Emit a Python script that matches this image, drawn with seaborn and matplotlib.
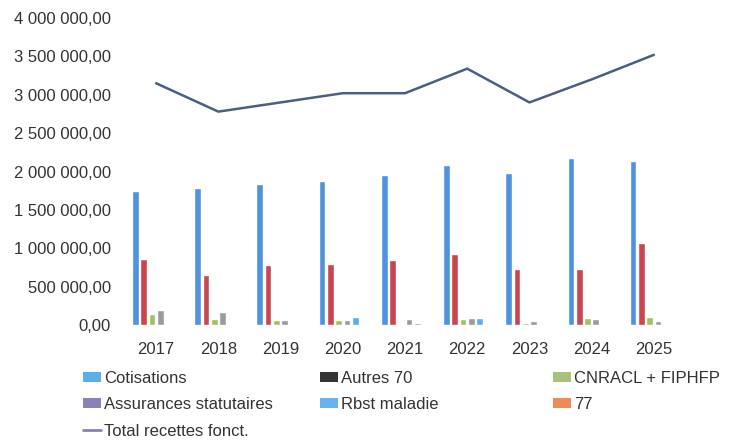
import numpy as np
import pandas as pd
import matplotlib
matplotlib.use('Agg')
import matplotlib.pyplot as plt
from matplotlib.patches import Patch
from matplotlib.lines import Line2D
from matplotlib.ticker import FuncFormatter
import seaborn as sns

# Données
annees = ['2017', '2018', '2019', '2020', '2021', '2022', '2023', '2024', '2025']
cotisations = [1750000, 1790000, 1840000, 1870000, 1960000, 2090000, 1980000, 2170000, 2140000]
autres_70 = [860000, 650000, 780000, 800000, 850000, 920000, 730000, 730000, 1065000]
cnracl_fiphfp = [140000, 80000, 70000, 65000, 0, 75000, 20000, 90000, 100000]
assurances = [190000, 170000, 70000, 65000, 75000, 85000, 50000, 80000, 50000]
rbst_maladie = [15000, 0, 15000, 100000, 30000, 85000, 10000, 10000, 0]
c77 = [0, 0, 0, 0, 0, 0, 0, 0, 0]
total_recettes = [3150000, 2780000, 2900000, 3020000, 3020000, 3340000, 2900000, 3200000, 3520000]

series = ['Cotisations', 'Autres 70', 'CNRACL + FIPHFP',
          'Assurances statutaires', 'Rbst maladie', '77']

df = pd.DataFrame({
    'annee': annees,
    'Cotisations': cotisations,
    'Autres 70': autres_70,
    'CNRACL + FIPHFP': cnracl_fiphfp,
    'Assurances statutaires': assurances,
    'Rbst maladie': rbst_maladie,
    '77': c77,
})
df_long = df.melt(id_vars='annee', var_name='poste', value_name='montant')

# couleurs des barres (telles qu'elles apparaissent)
couleurs_barres = {
    'Cotisations': '#4f93de',
    'Autres 70': '#c8464f',
    'CNRACL + FIPHFP': '#9cc45c',
    'Assurances statutaires': '#9a9b9e',
    'Rbst maladie': '#58aef0',
    '77': '#ee8a56',
}
# couleurs de la légende
couleurs_legende = {
    'Cotisations': '#5caee8',
    'Autres 70': '#343434',
    'CNRACL + FIPHFP': '#a9c27a',
    'Assurances statutaires': '#8c80b8',
    'Rbst maladie': '#6ab2ec',
    '77': '#ec8a5a',
}
couleur_ligne = '#4b5f80'

sns.set_theme(style='white')
plt.rcParams['font.family'] = ['Liberation Sans', 'DejaVu Sans']
plt.rcParams['text.color'] = '#333333'

fig = plt.figure(figsize=(7.34, 4.43), dpi=100)
ax = fig.add_axes([125 / 734, 1 - 325 / 443, 560 / 734, 307 / 443])

sns.barplot(data=df_long, x='annee', y='montant', hue='poste', hue_order=series,
            palette=couleurs_barres, saturation=1, width=0.8, gap=0.2,
            legend=False, ax=ax)

sns.lineplot(x=np.arange(len(annees)), y=total_recettes, color=couleur_ligne,
             linewidth=1.8, legend=False, ax=ax)

ax.set_xlim(-0.5, len(annees) - 0.5)
ax.set_ylim(0, 4000000)
ax.set_yticks(np.arange(0, 4000001, 500000))


def fmt_fr(v, pos):
    s = f"{v:,.2f}"
    return s.replace(',', ' ').replace('.', ',')


ax.yaxis.set_major_formatter(FuncFormatter(fmt_fr))
ax.set_xlabel('')
ax.set_ylabel('')
ax.tick_params(axis='y', labelsize=12, pad=10, length=0, colors='#333333')
ax.tick_params(axis='x', labelsize=12, pad=12, length=0, colors='#333333')
for s in ax.spines.values():
    s.set_visible(False)
ax.grid(False)

# Légende en trois colonnes
colonnes = [
    (83, ['Cotisations', 'Assurances statutaires', 'total']),
    (320, ['Autres 70', 'Rbst maladie']),
    (553, ['CNRACL + FIPHFP', '77']),
]
for x0, noms in colonnes:
    handles = []
    labels = []
    for n in noms:
        if n == 'total':
            handles.append(Line2D([0], [0], color='#8c80b8', linewidth=2))
            labels.append('Total recettes fonct.')
        else:
            handles.append(Patch(facecolor=couleurs_legende[n], edgecolor='none'))
            labels.append(n)
    fig.legend(handles, labels, loc='upper left',
               bbox_to_anchor=(x0 / 734, 1 - 371 / 443),
               frameon=False, fontsize=12, handlelength=1.1, handleheight=0.55,
               handletextpad=0.15, labelspacing=0.68, borderpad=0, borderaxespad=0)

fig.savefig('out.png', dpi=100)
